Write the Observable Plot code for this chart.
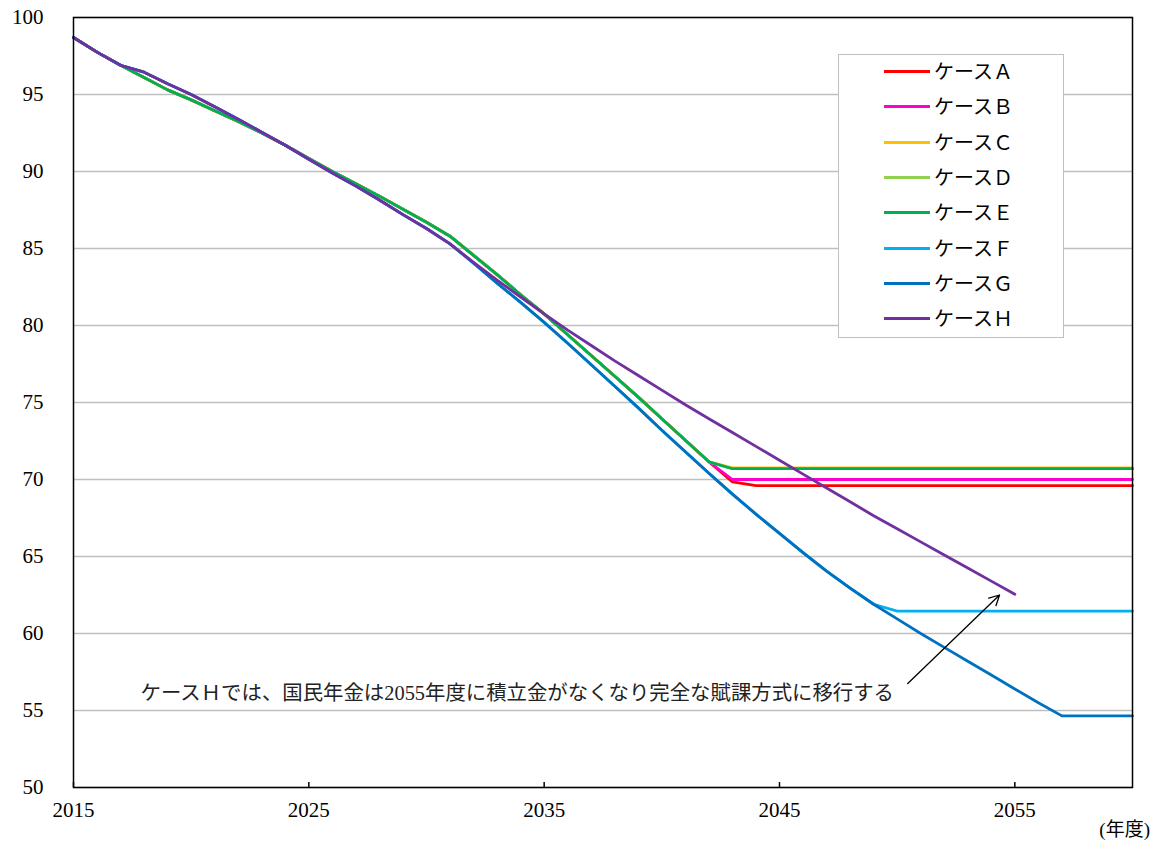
<!DOCTYPE html>
<html><head><meta charset="utf-8">
<script src="https://cdn.jsdelivr.net/npm/d3@7"></script>
<script src="https://cdn.jsdelivr.net/npm/@observablehq/plot@0.6"></script>
<style>
body{margin:0;background:#fff;}
#wrap{position:relative;width:1157px;height:842px;overflow:hidden;}
#legend{position:absolute;left:838px;top:54px;width:224px;height:282px;border:1.5px solid #bfbfbf;background:#fff;font-family:"Noto Sans CJK JP",sans-serif;font-size:20px;color:#000;}
.row{position:absolute;left:0;height:30px;}
.sw{position:absolute;left:45px;width:46px;height:3px;}
.lab{position:absolute;left:95px;white-space:nowrap;line-height:30px;}
#unit{position:absolute;right:7px;top:819px;font-family:"Liberation Serif","Noto Sans CJK JP",serif;font-size:19px;line-height:22px;}
</style></head>
<body><div id="wrap"><div id="chart"></div><div id="legend"></div><div id="unit">(年度)</div></div>
<script>
const years = [2015,2016,2017,2018,2019,2020,2021,2022,2023,2024,2025,2026,2027,2028,2029,2030,2031,2032,2033,2034,2035,2036,2037,2038,2039,2040,2041,2042,2043,2044,2045,2046,2047,2048,2049,2050,2051,2052,2053,2054,2055,2056,2057,2058,2059,2060];
const cases = ["ケースＡ","ケースＢ","ケースＣ","ケースＤ","ケースＥ","ケースＦ","ケースＧ","ケースＨ"];
const colors = ["#ff0000","#ff00cc","#ffc000","#92d050","#00b050","#00b0f0","#0070c0","#7030a0"];
const caseA = [98.7,97.75,96.9,96.1,95.3,94.65,93.95,93.25,92.5,91.7,90.85,90.0,89.2,88.4,87.55,86.7,85.8,84.55,83.3,82.0,80.75,79.4,78.05,76.7,75.35,73.95,72.55,71.15,69.85,69.6,69.6,69.6,69.6,69.6,69.6,69.6,69.6,69.6,69.6,69.6,69.6,69.6,69.6,69.6,69.6,69.6];
const caseB = [98.7,97.75,96.9,96.1,95.3,94.65,93.95,93.25,92.5,91.7,90.85,90.0,89.2,88.4,87.55,86.7,85.8,84.55,83.3,82.0,80.75,79.4,78.05,76.7,75.35,73.95,72.55,71.15,70.0,70.0,70.0,70.0,70.0,70.0,70.0,70.0,70.0,70.0,70.0,70.0,70.0,70.0,70.0,70.0,70.0,70.0];
const caseC = [98.7,97.75,96.9,96.1,95.3,94.65,93.95,93.25,92.5,91.7,90.85,90.0,89.2,88.4,87.55,86.7,85.8,84.55,83.3,82.0,80.75,79.4,78.05,76.7,75.35,73.95,72.55,71.15,70.75,70.75,70.75,70.75,70.75,70.75,70.75,70.75,70.75,70.75,70.75,70.75,70.75,70.75,70.75,70.75,70.75,70.75];
const caseD = [98.7,97.75,96.9,96.1,95.3,94.65,93.95,93.25,92.5,91.7,90.85,90.0,89.2,88.4,87.55,86.7,85.8,84.55,83.3,82.0,80.75,79.4,78.05,76.7,75.35,73.95,72.55,71.15,70.7,70.7,70.7,70.7,70.7,70.7,70.7,70.7,70.7,70.7,70.7,70.7,70.7,70.7,70.7,70.7,70.7,70.7];
const caseE = [98.7,97.75,96.9,96.1,95.3,94.65,93.95,93.25,92.5,91.7,90.85,90.0,89.2,88.4,87.55,86.7,85.8,84.55,83.3,82.0,80.75,79.4,78.05,76.7,75.35,73.95,72.55,71.15,70.7,70.7,70.7,70.7,70.7,70.7,70.7,70.7,70.7,70.7,70.7,70.7,70.7,70.7,70.7,70.7,70.7,70.7];
const caseF = [98.7,97.75,96.9,96.45,95.7,95.0,94.2,93.4,92.55,91.7,90.8,89.9,89.05,88.15,87.2,86.3,85.3,84.05,82.75,81.5,80.2,78.85,77.45,76.05,74.65,73.2,71.8,70.4,69.05,67.75,66.5,65.25,64.05,62.95,61.9,61.45,61.45,61.45,61.45,61.45,61.45,61.45,61.45,61.45,61.45,61.45];
const caseG = [98.7,97.75,96.9,96.45,95.7,95.0,94.2,93.4,92.55,91.7,90.8,89.9,89.05,88.15,87.2,86.3,85.3,84.05,82.75,81.5,80.2,78.85,77.45,76.05,74.65,73.2,71.8,70.4,69.05,67.75,66.5,65.25,64.05,62.95,61.9,60.95,60.0,59.1,58.2,57.3,56.4,55.5,54.65,54.65,54.65,54.65];
const caseH = [98.7,97.75,96.9,96.45,95.7,95.0,94.2,93.4,92.55,91.7,90.8,89.9,89.05,88.15,87.2,86.3,85.3,84.1,82.95,81.85,80.75,79.7,78.7,77.7,76.75,75.8,74.85,73.95,73.05,72.15,71.25,70.35,69.45,68.55,67.65,66.8,65.95,65.1,64.25,63.4,62.55,null,null,null,null,null];
const xTicks = [2015,2025,2035,2045,2055];
const yTicks = [50,55,60,65,70,75,80,85,90,95,100];
const noteText = ["ケースＨでは、国民年金は2055年度に積立金がなくなり完全な賦課方式に移行する"];
const noteX = [2017.85];
const noteY = [56.1];
const arrowFrom = [2050.45, 56.75];
const arrowTo = [2054.35, 62.5];

const series = [caseA,caseB,caseC,caseD,caseE,caseF,caseG,caseH];
const rows = [];
series.forEach((vals, i) => vals.forEach((v, j) => { if (v != null) rows.push({year: years[j], value: v, case: cases[i]}); }));
const notes = noteText.map((t, i) => ({x: noteX[i], y: noteY[i], text: t}));

const chart = Plot.plot({
  width: 1157, height: 842,
  marginLeft: 73, marginRight: 25, marginTop: 17, marginBottom: 55,
  style: {fontFamily: "'Liberation Serif','Noto Sans CJK JP',serif", fontSize: "21px", color: "#000", background: "#fff"},
  x: {domain: [2015, 2060], label: null},
  y: {domain: [50, 100], label: null},
  color: {domain: cases, range: colors},
  marks: [
    Plot.gridY(yTicks, {stroke: "#bfbfbf", strokeOpacity: 1, strokeWidth: 1.5}),
    Plot.axisY(yTicks, {tickSize: 0, tickPadding: 30, label: null, fontSize: 21}),
    Plot.axisX(xTicks, {tickSize: 0, tickPadding: 15, label: null, fontSize: 21, tickFormat: d => String(d)}),
    Plot.ruleX(xTicks, {x: d => d, stroke: "black", strokeWidth: 1.5, insetTop: 765}),
    Plot.line(rows, {x: "year", y: "value", z: "case", stroke: "case", strokeWidth: 2.8}),
    Plot.frame({stroke: "black", strokeWidth: 1.5}),
    Plot.text(notes, {x: "x", y: "y", text: "text", textAnchor: "start", fontSize: 20.4, fill: "#222"}),
    Plot.arrow([{x1: arrowFrom[0], y1: arrowFrom[1], x2: arrowTo[0], y2: arrowTo[1]}], {x1: "x1", y1: "y1", x2: "x2", y2: "y2", stroke: "black", strokeWidth: 1.3, headLength: 13, headAngle: 55})
  ]
});
document.getElementById("chart").appendChild(chart);

const legend = document.getElementById("legend");
cases.forEach((c, i) => {
  const row = document.createElement("div");
  row.className = "row";
  row.style.top = (1 + i * 35.3) + "px";
  row.style.width = "224px";
  const sw = document.createElement("div");
  sw.className = "sw";
  sw.style.background = colors[i];
  sw.style.top = "14px";
  const lab = document.createElement("div");
  lab.className = "lab";
  lab.textContent = c;
  lab.style.top = "0px";
  row.appendChild(sw); row.appendChild(lab);
  legend.appendChild(row);
});
</script></body></html>
